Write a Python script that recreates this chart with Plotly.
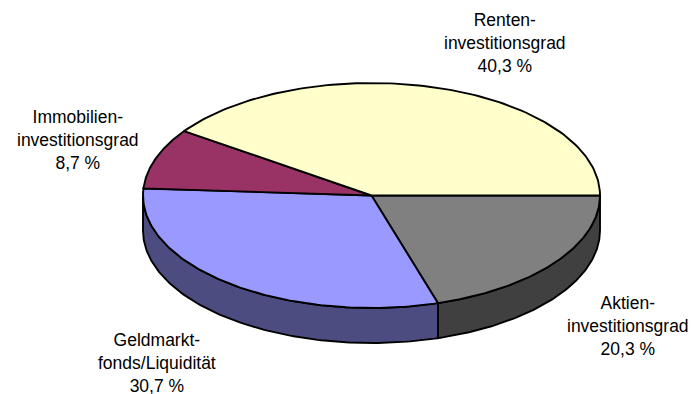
import numpy as np
import plotly.graph_objects as go

# Portfolio split (percent), listed clockwise from the 3 o'clock position
categories = ["Aktien-<br>investitionsgrad", "Geldmarkt-<br>fonds/Liquidität",
              "Immobilien-<br>investitionsgrad", "Renten-<br>investitionsgrad"]
values = [20.3, 30.7, 8.7, 40.3]
value_labels = ["20,3 %", "30,7 %", "8,7 %", "40,3 %"]

top_colors = ["#808080", "#9999FF", "#993366", "#FFFFCC"]
side_colors = ["#404040", "#4C4C80", "#4C1933", "#808066"]

# Pie geometry in pixel space
W, H = 698, 394
cx, cy = 371.5, 195.5
rx, ry = 228.5, 112.5
depth = 35
label_pos = [(628, 326), (157, 363), (78, 140), (505, 43)]


def arc(t_from, t_to, dy=0.0, n=120):
    t = np.radians(np.linspace(t_from, t_to, n))
    return cx + rx * np.cos(t), cy - ry * np.sin(t) + dy


fig = go.Figure()
total = sum(values)
bounds = []
start = 0.0
for v in values:
    end = start - 360.0 * v / total
    bounds.append((start, end))
    start = end

# Front wall of the disc: only the lower half (angles between -180 and 0) is visible
for (t1, t2), col in zip(bounds, side_colors):
    hi, lo = min(t1, 0.0), max(t2, -180.0)
    if hi <= lo:
        continue
    xt, yt = arc(lo, hi)
    xb, yb = arc(hi, lo, dy=depth)
    xs = np.concatenate([xt, xb, xt[:1]])
    ys = np.concatenate([yt, yb, yt[:1]])
    fig.add_trace(go.Scatter(x=xs, y=ys, mode="lines", fill="toself", fillcolor=col,
                             line=dict(color="black", width=1.9), hoverinfo="skip",
                             showlegend=False))

# Top faces of the slices
for (t1, t2), col in zip(bounds, top_colors):
    xa, ya = arc(t1, t2)
    xs = np.concatenate([[cx], xa, [cx]])
    ys = np.concatenate([[cy], ya, [cy]])
    fig.add_trace(go.Scatter(x=xs, y=ys, mode="lines", fill="toself", fillcolor=col,
                             line=dict(color="black", width=1.9), hoverinfo="skip",
                             showlegend=False))

for cat, lab, (lx, ly) in zip(categories, value_labels, label_pos):
    fig.add_annotation(x=lx, y=ly, text=f"{cat}<br>{lab}", showarrow=False,
                       xanchor="center", yanchor="middle", align="center",
                       font=dict(family="Liberation Sans, Arial, sans-serif",
                                 size=17.5, color="black"))

fig.update_layout(
    width=W, height=H,
    margin=dict(l=0, r=0, t=0, b=0),
    paper_bgcolor="white", plot_bgcolor="white",
    xaxis=dict(range=[0, W], visible=False, fixedrange=True),
    yaxis=dict(range=[H, 0], visible=False, fixedrange=True),
)

fig.write_html("out.html")
